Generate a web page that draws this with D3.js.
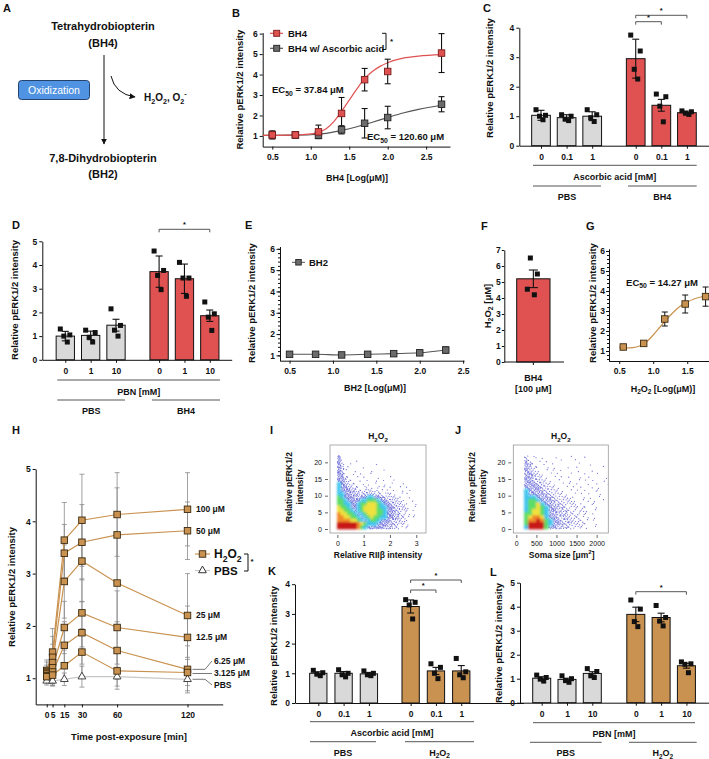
<!DOCTYPE html>
<html>
<head>
<meta charset="utf-8">
<script src="https://cdn.jsdelivr.net/npm/d3@7"></script>
<style>
  body { margin: 0; background: #fff; }
  svg { display: block; }
</style>
</head>
<body>
<script>
// ---- B: BH4 dose response ----
const bX = [0.5, 0.8, 1.1, 1.4, 1.7, 2.0, 2.7];
const bBH4 = [1.05, 1.05, 1.2, 2.1, 3.75, 4.15, 5.05];
const bBH4Err = [0.2, 0.15, 0.33, 0.78, 0.55, 0.6, 0.95];
const bAA = [1.05, 1.05, 1.03, 1.3, 1.62, 1.9, 2.55];
const bAAErr = [0.15, 0.15, 0.15, 0.2, 0.72, 0.55, 0.37];
const bFitX = [0.375, 0.6, 0.8, 1.0, 1.1, 1.2, 1.3, 1.4, 1.5, 1.6, 1.7, 1.8, 1.9, 2.0, 2.2, 2.4, 2.7];
const bFitBH4 = [1.03, 1.03, 1.05, 1.1, 1.18, 1.35, 1.7, 2.2, 2.75, 3.3, 3.8, 4.15, 4.4, 4.58, 4.8, 4.9, 4.97];
const bFitAAX = [0.375, 0.8, 1.0, 1.2, 1.4, 1.6, 1.8, 2.0, 2.2, 2.4, 2.7];
const bFitAA = [1.03, 1.04, 1.06, 1.13, 1.27, 1.45, 1.67, 1.9, 2.12, 2.3, 2.5];

// ---- C: ascorbic acid ----
const cDoses = ['0', '0.1', '1', '0', '0.1', '1'];
const cMeans = [1.03, 0.95, 1.0, 2.95, 1.37, 1.12];
const cErrs = [0.17, 0.1, 0.15, 0.66, 0.2, 0.05];
const cPoints = [[1.22, 1.03, 1.0, 0.88], [1.05, 1.0, 0.9, 0.85], [1.22, 1.05, 0.95, 0.82],
                 [3.75, 3.21, 2.59, 2.26], [1.75, 1.66, 1.34, 0.81], [1.18, 1.15, 1.1, 1.06]];

// ---- D: PBN ----
const dDoses = ['0', '1', '10', '0', '1', '10'];
const dMeans = [1.0, 1.03, 1.46, 3.72, 3.42, 1.86];
const dErrs = [0.2, 0.18, 0.25, 0.66, 0.62, 0.24];
const dPoints = [[1.3, 1.05, 1.0, 0.75], [1.25, 1.15, 0.95, 0.75], [2.15, 1.45, 1.25, 1.0],
                 [4.59, 3.77, 3.56, 2.96], [4.11, 3.45, 3.45, 2.68], [2.44, 1.94, 1.8, 1.24]];

// ---- E: BH2 ----
const eX = [0.5, 0.8, 1.1, 1.4, 1.7, 2.0, 2.3];
const eY = [1.05, 1.05, 1.02, 1.05, 1.08, 1.12, 1.25];
const eErr = [0.1, 0.05, 0.06, 0.05, 0.06, 0.12, 0.15];

// ---- F: H2O2 from BH4 ----
const fMean = 5.2;
const fErr = 0.55;
const fPoints = [6.5, 5.5, 4.55, 4.2];

// ---- G: H2O2 dose response ----
const gX = [0.56, 0.86, 1.17, 1.47, 1.77];
const gY = [1.2, 1.38, 2.6, 3.35, 3.72];
const gErr = [0.06, 0.06, 0.35, 0.45, 0.48];
const gFitX = [0.5, 0.6, 0.7, 0.8, 0.9, 1.0, 1.1, 1.2, 1.3, 1.4, 1.5, 1.6, 1.7, 1.82];
const gFitY = [1.18, 1.15, 1.17, 1.25, 1.45, 1.8, 2.2, 2.6, 2.95, 3.25, 3.45, 3.6, 3.7, 3.78];

// ---- H: time course ----
const hTimes = [0, 5, 15, 30, 60, 120];
const hDoses = ['100 μM', '50 μM', '25 μM', '12.5 μM', '6.25 μM', '3.125 μM'];
const hMeans = [
  [1.15, 1.5, 3.64, 4.02, 4.13, 4.23],
  [1.13, 1.4, 3.39, 3.6, 3.74, 3.82],
  [1.1, 1.3, 2.85, 3.24, 2.82, 2.2],
  [1.08, 1.2, 1.97, 2.25, 1.97, 1.78],
  [1.05, 1.12, 1.63, 1.87, 1.53, 1.17],
  [1.03, 1.06, 1.24, 1.5, 1.14, 1.11]
];
const hErrs = [
  [0.2, 0.45, 0.72, 0.88, 0.8, 0.7],
  [0.18, 0.4, 0.55, 0.72, 0.9, 0.55],
  [0.15, 0.35, 0.7, 0.78, 0.9, 0.8],
  [0.12, 0.3, 0.5, 0.65, 0.7, 0.6],
  [0.12, 0.25, 0.45, 0.6, 0.55, 0.45],
  [0.12, 0.2, 0.3, 0.45, 0.35, 0.25]
];
const hPBS = [0.95, 0.95, 0.98, 1.03, 1.03, 0.98];
const hPBSErr = [0.08, 0.1, 0.12, 0.2, 0.18, 0.22];

// ---- I / J: density scatter, rows from y=21 (top) to y=0; '.', 1-4 = dots, 5-9 = dense colour ----
const iRows = [
  '4',
  '41...1',
  '42..1......1',
  '43.1...1',
  '431..1....1...1',
  '431.1..1..1',
  '4421..1.1...1...1',
  '44321.1..1.1..1..1',
  '543221.1.1.1..1.1...1',
  '5443221.2.1.2.1.1..1.1',
  '54443322222121.1.1.1..1',
  '554433323332221211.1.1',
  '65444334455443322211.1',
  '665444455666544332211.1',
  '6655445667776544332211.1',
  '7665445677776554433221.1',
  '7766545677776654433221.1',
  '8776654567776654433221.1',
  '8877665456766554433221.1',
  '8888776545665444332211',
  '9999998765554443332211',
  '9999998654444433322111'
];
const jRows = [
  '..3.2.1..1...1...1',
  '..32.1.1...1..1',
  '..431.1..1.....1..1',
  '..4321.1.1..1..1.....1',
  '..4321.1.1.1...1..1',
  '..44321.1.1..1...1..1',
  '..443211.1.1.1.1..1...1',
  '..4433211.1..1.1.1.1.1',
  '..44433211.1.1.1.1..1.1',
  '..444433211.1.1.1.1.1',
  '..5444332211.1.1.1.11',
  '..54444332211.1.1.1.1',
  '..5554443322211.1.1.1',
  '..5665444332221.11.1.1',
  '..5667544333222.1.11',
  '..5667654433222121.1',
  '..5677654433322121.1',
  '..6677654433322211.1',
  '..6788754433322211.1',
  '..6889865443332221.1',
  '..6999965443332221.1',
  '..5999964433322211.1'
];

// ---- K: ascorbic acid / H2O2 ----
const kDoses = ['0', '0.1', '1', '0', '0.1', '1'];
const kMeans = [1.0, 1.0, 0.98, 3.25, 1.08, 1.08];
const kErrs = [0.05, 0.06, 0.05, 0.22, 0.12, 0.18];
const kPoints = [[1.1, 1.02, 0.97, 0.92], [1.12, 1.0, 0.95, 0.88], [1.08, 1.0, 0.95, 0.92],
                 [3.48, 3.39, 3.3, 2.83], [1.32, 1.2, 1.0, 0.82], [1.5, 1.05, 0.95, 0.85]];

// ---- L: PBN / H2O2 ----
const lDoses = ['0', '1', '10', '0', '1', '10'];
const lMeans = [1.02, 0.97, 1.22, 3.68, 3.55, 1.54];
const lErrs = [0.06, 0.05, 0.07, 0.3, 0.18, 0.1];
const lPoints = [[1.15, 1.05, 0.98, 0.9], [1.12, 1.0, 0.92, 0.85], [1.42, 1.3, 1.12, 1.05],
                 [4.28, 3.9, 3.38, 3.17], [4.05, 3.55, 3.4, 3.2], [1.7, 1.62, 1.6, 1.25]];

const FONT = '"Liberation Sans", Arial, Helvetica, sans-serif';
const INK = '#111', GRAYBAR = '#d9d9d9', RED = '#e05252', TAN = '#c99250';
const fmtInt = d3.format('d');

const svg = d3.select('body').append('svg')
  .attr('width', 709).attr('height', 759)
  .attr('font-family', FONT);
const defs = svg.append('defs');
defs.append('marker').attr('id', 'arr')
  .attr('viewBox', '0 0 10 10').attr('refX', 9).attr('refY', 5)
  .attr('markerWidth', 6).attr('markerHeight', 6).attr('orient', 'auto')
  .append('path').attr('d', 'M0,0L10,5L0,10z').attr('fill', INK);
defs.append('filter').attr('id', 'blur').attr('x', '-20%').attr('y', '-20%').attr('width', '140%').attr('height', '140%')
  .append('feGaussianBlur').attr('stdDeviation', 1.1);

// text with _{sub} and ^{sup}
function rich(t, s, size) {
  const re = /([_^])\{([^}]*)\}/g;
  let last = 0, cur = 0, m;
  const add = (str, off, fs) => {
    t.append('tspan').attr('dy', off - cur).attr('font-size', fs).text(str);
    cur = off;
  };
  while ((m = re.exec(s)) !== null) {
    if (m.index > last) add(s.slice(last, m.index), 0, size);
    add(m[2], m[1] === '_' ? size * 0.3 : -size * 0.45, size * 0.72);
    last = re.lastIndex;
  }
  if (last < s.length) add(s.slice(last), 0, size);
}

function label(x, y, s, o = {}) {
  const size = o.size || 8;
  const t = svg.append('text').attr('x', x).attr('y', y)
    .attr('text-anchor', o.anchor || 'middle')
    .attr('font-size', size)
    .attr('font-weight', o.weight || 'bold')
    .attr('fill', o.fill || INK);
  if (o.rotate) t.attr('transform', `rotate(-90,${x},${y})`);
  rich(t, s, size);
  return t;
}

function styleAxis(g, size = 8.5, weight = 'bold', color = INK) {
  g.attr('font-family', FONT).attr('font-size', size).attr('font-weight', weight);
  g.selectAll('path.domain').attr('stroke', color);
  g.selectAll('.tick line').attr('stroke', color);
  g.selectAll('.tick text').attr('fill', INK);
}

function errBar(g, x, y1, y2, cap, color, w = 1) {
  g.append('line').attr('x1', x).attr('x2', x).attr('y1', y1).attr('y2', y2)
    .attr('stroke', color).attr('stroke-width', w);
  [y1, y2].forEach(yy => g.append('line')
    .attr('x1', x - cap / 2).attr('x2', x + cap / 2).attr('y1', yy).attr('y2', yy)
    .attr('stroke', color).attr('stroke-width', w));
}

function square(g, x, y, s, fill, stroke) {
  g.append('rect').attr('x', x - s / 2).attr('y', y - s / 2).attr('width', s).attr('height', s)
    .attr('fill', fill).attr('stroke', stroke).attr('stroke-width', 0.9);
}

// ================= A =================
label(3, 12, 'A', { size: 11, anchor: 'start' });
label(103, 29.5, 'Tetrahydrobiopterin', { size: 11 });
label(103, 46.5, '(BH4)', { size: 11 });
svg.append('line').attr('x1', 104).attr('x2', 104).attr('y1', 55).attr('y2', 144)
  .attr('stroke', INK).attr('stroke-width', 1).attr('marker-end', 'url(#arr)');
svg.append('rect').attr('x', 18.5).attr('y', 80.5).attr('width', 71).attr('height', 19).attr('rx', 3)
  .attr('fill', '#4f93e2').attr('stroke', '#24446e').attr('stroke-width', 1);
label(54, 94.3, 'Oxidization', { size: 10.5, weight: 'normal', fill: '#fff' });
svg.append('path').attr('d', 'M111,76 Q115,94 135,97').attr('fill', 'none')
  .attr('stroke', INK).attr('marker-end', 'url(#arr)');
label(144, 100.5, 'H_{2}O_{2}, O_{2}^{-}', { size: 10, anchor: 'start' });
label(103, 161.5, '7,8-Dihydrobiopterin', { size: 11 });
label(103, 178, '(BH2)', { size: 11 });

// ================= B =================
label(232, 17, 'B', { size: 11, anchor: 'start' });
{
  const x = d3.scaleLinear().domain([0.375, 2.81]).range([262.7, 450]);
  const y = d3.scaleLinear().domain([0.48, 6.05]).range([146.6, 32.6]);
  const g = svg.append('g');
  styleAxis(g.append('g').attr('transform', `translate(0,${y.range()[0]})`)
    .call(d3.axisBottom(x).tickValues([0.5, 1, 1.5, 2, 2.5]).tickFormat(d3.format('.1f')).tickSize(3).tickSizeOuter(0).tickPadding(4)));
  styleAxis(g.append('g').attr('transform', `translate(${x.range()[0]},0)`)
    .call(d3.axisLeft(y).tickValues([1, 2, 3, 4, 5, 6]).tickFormat(fmtInt).tickSize(3).tickSizeOuter(0).tickPadding(2)));
  const line = d3.line().curve(d3.curveMonotoneX);
  g.append('path').attr('d', line(bFitAAX.map((v, i) => [x(v), y(bFitAA[i])])))
    .attr('fill', 'none').attr('stroke', '#555').attr('stroke-width', 1.2);
  g.append('path').attr('d', line(bFitX.map((v, i) => [x(v), y(bFitBH4[i])])))
    .attr('fill', 'none').attr('stroke', RED).attr('stroke-width', 1.2);
  bX.forEach((v, i) => {
    errBar(g, x(v), y(bAA[i] + bAAErr[i]), y(bAA[i] - bAAErr[i]), 6, INK, 1.1);
    errBar(g, x(v), y(bBH4[i] + bBH4Err[i]), y(bBH4[i] - bBH4Err[i]), 6, INK, 1.1);
  });
  bX.forEach((v, i) => square(g, x(v), y(bAA[i]), 6.5, '#6b6b6b', '#222'));
  bX.forEach((v, i) => square(g, x(v), y(bBH4[i]), 6.5, RED, '#7a1c1c'));
  // legend
  [[33.3, RED, '#7a1c1c', RED, 'BH4'], [48.3, '#555', '#222', '#6b6b6b', 'BH4 w/ Ascorbic acid']].forEach(([ly, lc, sc, fc, name]) => {
    g.append('line').attr('x1', 270).attr('x2', 283).attr('y1', ly).attr('y2', ly).attr('stroke', lc).attr('stroke-width', 1.2);
    square(g, 276.7, ly, 6, fc, sc);
    label(288, ly + 3.4, name, { size: 9.5, anchor: 'start' });
  });
  g.append('path').attr('d', 'M382,33.3 H386 V49.5 H382').attr('fill', 'none').attr('stroke', INK);
  label(391.5, 44, '*', { size: 8 });
  label(272, 93, 'EC_{50} = 37.84 μM', { size: 9.5, anchor: 'start' });
  label(367, 140, 'EC_{50} = 120.60 μM', { size: 9.5, anchor: 'start' });
  label(243, 89.6, 'Relative pERK1/2 intensity', { size: 9.5, rotate: true });
  label(357, 180.5, 'BH4 [Log(μM)]', { size: 9 });
}

// ================= bar panels (C, D, K, L) =================
function barPanel(p) {
  const g = svg.append('g');
  const y = d3.scaleLinear().domain([0, p.max]).range([p.y0, p.y0 - p.max * p.unit]);
  const slot = i => i + (i >= 3 ? p.gap : 0);
  const x = d3.scaleLinear().domain([0, 1]).range([p.c0, p.c0 + p.step]);
  const xa = d3.scaleLinear().domain([x.invert(p.ax), x.invert(p.axEnd)]).range([p.ax, p.axEnd]);
  const idx = p.means.map((d, i) => i);

  g.selectAll('rect.bar').data(p.means).join('rect').attr('class', 'bar')
    .attr('x', (d, i) => x(slot(i)) - p.bw / 2).attr('width', p.bw)
    .attr('y', d => y(d)).attr('height', d => y(0) - y(d))
    .attr('fill', (d, i) => i < 3 ? GRAYBAR : p.color)
    .attr('stroke', INK).attr('stroke-width', 1);
  idx.forEach(i => errBar(g, x(slot(i)), y(p.means[i] + p.errs[i]), y(p.means[i] - p.errs[i]), 7, INK, 1.1));
  const offs = [-5, 4.5, -1.5, 2];
  p.points.forEach((pts, i) => pts.forEach((v, k) =>
    g.append('rect').attr('x', x(slot(i)) + offs[k] - 2.5).attr('y', y(v) - 2.5)
      .attr('width', 5).attr('height', 5).attr('fill', INK)));

  styleAxis(g.append('g').attr('transform', `translate(${p.ax},0)`)
    .call(d3.axisLeft(y).ticks(p.max).tickFormat(fmtInt).tickSize(3).tickSizeOuter(0).tickPadding(2)));
  styleAxis(g.append('g').attr('transform', `translate(0,${p.y0})`)
    .call(d3.axisBottom(xa).tickValues(idx.map(slot)).tickFormat((d, i) => p.doses[i])
      .tickSize(3).tickSizeOuter(0).tickPadding(5)));

  // group lines and labels
  g.append('line').attr('x1', p.line1[0]).attr('x2', p.line1[1]).attr('y1', p.ly1).attr('y2', p.ly1).attr('stroke', '#555');
  label((p.line1[0] + p.line1[1]) / 2, p.ly1 + 14.5, p.title, { size: 9 });
  p.groups.forEach(([a, b, name]) => {
    g.append('line').attr('x1', a).attr('x2', b).attr('y1', p.ly2).attr('y2', p.ly2).attr('stroke', '#555');
    label((a + b) / 2, p.ly2 + 14, name, { size: 9 });
  });
  // significance brackets
  p.brackets.forEach(([i0, i1, by]) => {
    const xa0 = x(slot(i0)), xa1 = x(slot(i1));
    g.append('path').attr('d', `M${xa0},${by + 3}V${by}H${xa1}V${by + 3}`).attr('fill', 'none').attr('stroke', '#444').attr('stroke-width', 0.9);
    label((xa0 + xa1) / 2, by - 2, '*', { size: 7.5 });
  });
  label(p.ylx, p.yly, 'Relative pERK1/2 intensity', { size: 9.5, rotate: true });
}

label(483, 12, 'C', { size: 11, anchor: 'start' });
barPanel({
  means: cMeans, errs: cErrs, points: cPoints, doses: cDoses, color: RED,
  max: 4, y0: 145.7, unit: 29.5, c0: 541, step: 25.6, gap: 0.7, bw: 18.7, ax: 519.3, axEnd: 709,
  line1: [533, 696.7], ly1: 165.3, title: 'Ascorbic acid [mM]', ly2: 186,
  groups: [[533, 601, 'PBS'], [628, 696.7, 'BH4']],
  brackets: [[3, 4, 21.7], [3, 5, 15.3]], ylx: 493, yly: 78
});

label(12, 229, 'D', { size: 11, anchor: 'start' });
barPanel({
  means: dMeans, errs: dErrs, points: dPoints, doses: dDoses, color: RED,
  max: 5, y0: 359.8, unit: 23.7, c0: 65.3, step: 25.35, gap: 0.7, bw: 18.3, ax: 42.3, axEnd: 231.7,
  line1: [57.3, 220], ly1: 380, title: 'PBN [mM]', ly2: 400,
  groups: [[57.3, 125, 'PBS'], [152, 220, 'BH4']],
  brackets: [[3, 5, 229.3]], ylx: 18, yly: 300
});

label(268, 575, 'K', { size: 11, anchor: 'start' });
barPanel({
  means: kMeans, errs: kErrs, points: kPoints, doses: kDoses, color: TAN,
  max: 4, y0: 703, unit: 29.7, c0: 318.3, step: 25.3, gap: 0.65, bw: 17.3, ax: 295, axEnd: 523.3,
  line1: [310, 474], ly1: 721.7, title: 'Ascorbic acid [mM]', ly2: 741.7,
  groups: [[310, 376, 'PBS'], [405, 474, 'H_{2}O_{2}']],
  brackets: [[3, 4, 590], [3, 5, 580]], ylx: 276.7, yly: 646
});

label(490, 576, 'L', { size: 11, anchor: 'start' });
barPanel({
  means: lMeans, errs: lErrs, points: lPoints, doses: lDoses, color: TAN,
  max: 5, y0: 702.7, unit: 24, c0: 541.7, step: 25.3, gap: 0.72, bw: 18, ax: 520, axEnd: 709,
  line1: [533, 695], ly1: 722.7, title: 'PBN [mM]', ly2: 742.3,
  groups: [[530, 601.7, 'PBS'], [629, 696.7, 'H_{2}O_{2}']],
  brackets: [[3, 5, 591.7]], ylx: 501.7, yly: 643
});

// ================= E =================
label(245, 229, 'E', { size: 11, anchor: 'start' });
{
  const x = d3.scaleLinear().domain([0.39, 2.51]).range([280, 464]);
  const y = d3.scaleLinear().domain([0.75, 6.1]).range([360.7, 246.7]);
  const g = svg.append('g');
  styleAxis(g.append('g').attr('transform', `translate(0,${y.range()[0]})`)
    .call(d3.axisBottom(x).tickValues([0.5, 1, 1.5, 2, 2.5]).tickFormat(d3.format('.1f')).tickSize(3).tickSizeOuter(0).tickPadding(4)));
  styleAxis(g.append('g').attr('transform', `translate(${x.range()[0]},0)`)
    .call(d3.axisLeft(y).tickValues(d3.range(10, 61, 2).map(v => v / 10)).tickFormat('').tickSize(2).tickSizeOuter(0)));
  styleAxis(g.append('g').attr('transform', `translate(${x.range()[0]},0)`)
    .call(d3.axisLeft(y).tickValues([1, 2, 3, 4, 5, 6]).tickFormat(fmtInt).tickSize(3.5).tickSizeOuter(0).tickPadding(1.5)));
  g.append('path').attr('d', d3.line().curve(d3.curveMonotoneX)(eX.map((v, i) => [x(v), y(eY[i])])))
    .attr('fill', 'none').attr('stroke', '#555').attr('stroke-width', 1.1);
  eX.forEach((v, i) => errBar(g, x(v), y(eY[i] + eErr[i]), y(eY[i] - eErr[i]), 6, '#333'));
  eX.forEach((v, i) => square(g, x(v), y(eY[i]), 6.5, '#6b6b6b', '#222'));
  g.append('line').attr('x1', 292).attr('x2', 305).attr('y1', 262.3).attr('y2', 262.3).attr('stroke', '#555');
  square(g, 298.5, 262.3, 5.5, '#6b6b6b', '#222');
  label(309, 265.5, 'BH2', { size: 9.5, anchor: 'start' });
  label(255, 303, 'Relative pERK1/2 intensity', { size: 9.5, rotate: true });
  label(375, 391, 'BH2 [Log(μM)]', { size: 9 });
}

// ================= F =================
label(481, 230, 'F', { size: 11, anchor: 'start' });
{
  const y = d3.scaleLinear().domain([0, 7]).range([362, 250]);
  const x = d3.scaleBand().domain(['BH4']).range([516.7, 550]);
  const g = svg.append('g');
  g.append('rect').attr('x', x('BH4')).attr('width', x.bandwidth())
    .attr('y', y(fMean)).attr('height', y(0) - y(fMean)).attr('fill', RED).attr('stroke', INK);
  const cx = x('BH4') + x.bandwidth() / 2;
  errBar(g, cx, y(fMean + fErr), y(fMean - fErr), 9, INK, 1.1);
  [-3, 4, -6, 1].forEach((o, k) => g.append('rect').attr('x', cx + o - 2.5).attr('y', y(fPoints[k]) - 2.5)
    .attr('width', 5).attr('height', 5).attr('fill', INK));
  styleAxis(g.append('g').attr('transform', 'translate(504.3,0)')
    .call(d3.axisLeft(y).ticks(7).tickFormat(fmtInt).tickSize(2.5).tickSizeOuter(0).tickPadding(1)));
  g.append('line').attr('x1', 504.3).attr('x2', 564).attr('y1', 362).attr('y2', 362).attr('stroke', INK);
  g.append('line').attr('x1', cx).attr('x2', cx).attr('y1', 362).attr('y2', 365).attr('stroke', INK);
  label(cx, 380.5, 'BH4', { size: 9 });
  label(cx, 392, '[100 μM]', { size: 9 });
  label(490.5, 306, 'H_{2}O_{2} [μM]', { size: 9.5, rotate: true });
}

// ================= G =================
label(586, 230, 'G', { size: 11, anchor: 'start' });
{
  const x = d3.scaleLinear().domain([0.35, 1.82]).range([609, 709]);
  const y = d3.scaleLinear().domain([0.5, 6.1]).range([361, 249]);
  const g = svg.append('g');
  styleAxis(g.append('g').attr('transform', `translate(0,${y.range()[0]})`)
    .call(d3.axisBottom(x).tickValues([0.5, 1, 1.5]).tickFormat(d3.format('.1f')).tickSize(3).tickSizeOuter(0).tickPadding(4)));
  styleAxis(g.append('g').attr('transform', `translate(${x.range()[0]},0)`)
    .call(d3.axisLeft(y).tickValues(d3.range(6, 61, 2).map(v => v / 10)).tickFormat('').tickSize(2).tickSizeOuter(0)));
  styleAxis(g.append('g').attr('transform', `translate(${x.range()[0]},0)`)
    .call(d3.axisLeft(y).tickValues([1, 2, 3, 4, 5, 6]).tickFormat(fmtInt).tickSize(3).tickSizeOuter(0).tickPadding(1)));
  g.append('path').attr('d', d3.line().curve(d3.curveMonotoneX)(gFitX.map((v, i) => [x(v), y(gFitY[i])])))
    .attr('fill', 'none').attr('stroke', TAN).attr('stroke-width', 1.2);
  gX.forEach((v, i) => errBar(g, x(v), y(gY[i] + gErr[i]), y(gY[i] - gErr[i]), 6, INK));
  gX.forEach((v, i) => square(g, x(v), y(gY[i]), 6.5, TAN, '#3a2a10'));
  label(662, 285.5, 'EC_{50} = 14.27 μM', { size: 9.5 });
  label(595.5, 303, 'Relative pERK1/2 intensity', { size: 9.5, rotate: true });
  label(663, 391.5, 'H_{2}O_{2} [Log(μM)]', { size: 9 });
}

// ================= H =================
label(12, 434, 'H', { size: 11, anchor: 'start' });
{
  const x = d3.scaleLinear().domain([-9.4, 150]).range([35.7, 222.7]);
  const y = d3.scaleLinear().domain([0.5, 5]).range([704.4, 469]);
  const g = svg.append('g');
  styleAxis(g.append('g').attr('transform', `translate(0,${y.range()[0]})`)
    .call(d3.axisBottom(x).tickValues(hTimes).tickFormat(fmtInt).tickSize(3).tickSizeOuter(0).tickPadding(5)));
  styleAxis(g.append('g').attr('transform', `translate(${x.range()[0]},0)`)
    .call(d3.axisLeft(y).tickValues([1, 2, 3, 4, 5]).tickFormat(fmtInt).tickSize(3).tickSizeOuter(0).tickPadding(2)));
  hTimes.forEach((t, i) => {
    errBar(g, x(t), y(hPBS[i] + hPBSErr[i]), y(hPBS[i] - hPBSErr[i]), 5, '#8a8a8a', 0.8);
    hMeans.forEach((s, k) => errBar(g, x(t), y(s[i] + hErrs[k][i]), y(s[i] - hErrs[k][i]), 5, '#8a8a8a', 0.8));
  });
  const line = d3.line().x((d, i) => x(hTimes[i])).y(d => y(d));
  g.append('path').attr('d', line(hPBS)).attr('fill', 'none').attr('stroke', '#c8c8c8').attr('stroke-width', 1.2);
  const tri = d3.symbol(d3.symbolTriangle, 26);
  hPBS.forEach((v, i) => g.append('path').attr('d', tri())
    .attr('transform', `translate(${x(hTimes[i])},${y(v)})`).attr('fill', '#fff').attr('stroke', '#333').attr('stroke-width', 0.9));
  hMeans.forEach(s => g.append('path').attr('d', line(s)).attr('fill', 'none').attr('stroke', TAN).attr('stroke-width', 1.2));
  hMeans.forEach(s => s.forEach((v, i) => square(g, x(hTimes[i]), y(v), 6.5, TAN, '#3a2a10')));
  // end labels
  hMeans.slice(0, 4).forEach((s, k) => label(196, y(s[5]) + 3, hDoses[k], { size: 8.5, anchor: 'start' }));
  const lx = x(120) + 5;
  g.append('path').attr('d', `M${lx},${y(hMeans[4][5])}H205L212,661`).attr('fill', 'none').attr('stroke', '#555').attr('stroke-width', 0.8);
  g.append('path').attr('d', `M${lx},${y(hMeans[5][5]) + 1}H212`).attr('fill', 'none').attr('stroke', '#555').attr('stroke-width', 0.8);
  g.append('path').attr('d', `M${lx},${y(hPBS[5])}H205L212,685`).attr('fill', 'none').attr('stroke', '#555').attr('stroke-width', 0.8);
  label(214, 664, hDoses[4], { size: 8.5, anchor: 'start' });
  label(214, 675.5, hDoses[5], { size: 8.5, anchor: 'start' });
  label(214, 688, 'PBS', { size: 8.5, anchor: 'start' });
  // legend
  g.append('line').attr('x1', 195).attr('x2', 210).attr('y1', 554).attr('y2', 554).attr('stroke', TAN).attr('stroke-width', 1.2);
  square(g, 202.5, 554, 6.5, TAN, '#3a2a10');
  g.append('line').attr('x1', 195).attr('x2', 210).attr('y1', 570.5).attr('y2', 570.5).attr('stroke', '#c8c8c8').attr('stroke-width', 1.2);
  g.append('path').attr('d', tri()).attr('transform', 'translate(202.5,570.5)').attr('fill', '#fff').attr('stroke', '#333');
  label(214, 558, 'H_{2}O_{2}', { size: 12, anchor: 'start' });
  label(214, 574.5, 'PBS', { size: 11.5, anchor: 'start' });
  g.append('path').attr('d', 'M244,554H248V571H244').attr('fill', 'none').attr('stroke', INK);
  label(252, 564, '*', { size: 8 });
  label(15, 587, 'Relative pERK1/2 intensity', { size: 9.5, rotate: true });
  label(129, 740, 'Time post-exposure [min]', { size: 9.5 });
}

// ================= I / J =================
const DENSE = { 5: '#42c4ee', 6: '#5cdc68', 7: '#efe23c', 8: '#f0882a', 9: '#c81414' };
// fixed dot layouts inside one cell (fractions of the cell), several variants to avoid a visible grid
const DOTSETS = [
  [[0.2, 0.3], [0.75, 0.75], [0.6, 0.15], [0.15, 0.85], [0.45, 0.55], [0.9, 0.4], [0.35, 0.05]],
  [[0.7, 0.2], [0.3, 0.7], [0.9, 0.9], [0.1, 0.1], [0.55, 0.45], [0.25, 0.35], [0.8, 0.6]],
  [[0.45, 0.8], [0.85, 0.3], [0.15, 0.5], [0.6, 0.6], [0.35, 0.15], [0.95, 0.85], [0.05, 0.95]],
  [[0.9, 0.65], [0.4, 0.25], [0.1, 0.7], [0.65, 0.9], [0.8, 0.05], [0.25, 0.95], [0.5, 0.4]],
  [[0.05, 0.45], [0.55, 0.95], [0.35, 0.6], [0.85, 0.1], [0.7, 0.5], [0.2, 0.2], [0.95, 0.75]]
];
function density(p) {
  const x = d3.scaleLinear().domain(p.xd).range(p.xr);
  const y = d3.scaleLinear().domain([-1.2, 25.2]).range([533, 445]);
  const g = svg.append('g');
  const cid = 'clip' + p.id;
  defs.append('clipPath').attr('id', cid).append('rect')
    .attr('x', p.xr[0]).attr('y', 445).attr('width', p.xr[1] - p.xr[0]).attr('height', 88);
  const sparse = g.append('g').attr('clip-path', `url(#${cid})`);
  const dense = g.append('g').attr('clip-path', `url(#${cid})`).append('g').attr('filter', 'url(#blur)');
  p.rows.forEach((row, r) => {
    const yv = p.rows.length - 1 - r;
    row.split('').forEach((ch, c) => {
      const lv = +ch;
      if (!lv) return;
      const x0 = x(c * p.bin), x1 = x((c + 1) * p.bin), y0 = y(yv + 1), y1 = y(yv);
      if (lv >= 5) {
        dense.append('rect').attr('x', x0 - 0.3).attr('y', y0 - 0.3)
          .attr('width', x1 - x0 + 0.6).attr('height', y1 - y0 + 0.6).attr('fill', DENSE[lv]);
      } else {
        const n = [0, 1, 2, 4, 7][lv];
        const set = DOTSETS[(r * 3 + c * 2) % DOTSETS.length];
        for (let k = 0; k < n; k++) {
          sparse.append('circle').attr('cx', x0 + (x1 - x0) * set[k][0]).attr('cy', y0 + (y1 - y0) * set[k][1])
            .attr('r', 0.6).attr('fill', lv === 4 ? '#5050d4' : '#4a4acc').attr('opacity', 0.85);
        }
      }
    });
  });
  g.append('rect').attr('x', p.xr[0]).attr('y', 445).attr('width', p.xr[1] - p.xr[0]).attr('height', 88)
    .attr('fill', 'none').attr('stroke', '#999').attr('stroke-width', 0.8);
  styleAxis(g.append('g').attr('transform', `translate(0,${533 + 2})`)
    .call(d3.axisBottom(x).tickValues(p.xticks).tickFormat(fmtInt).tickSize(3).tickSizeOuter(0)), 7, 'normal', '#666');
  g.selectAll('path.domain').remove();
  styleAxis(g.append('g').attr('transform', `translate(${p.xr[0] - 2},0)`)
    .call(d3.axisLeft(y).tickValues([0, 5, 10, 15, 20]).tickFormat(fmtInt).tickSize(3).tickSizeOuter(0)), 7, 'normal', '#666');
  g.selectAll('path.domain').remove();
  label((p.xr[0] + p.xr[1]) / 2, 439, 'H_{2}O_{2}', { size: 8.5 });
  label(p.xr[0] - 38.5, 487, 'Relative pERK1/2', { size: 8.5, rotate: true });
  label(p.xr[0] - 27.5, 487, 'intensity', { size: 8.5, rotate: true });
}
label(270, 434, 'I', { size: 11, anchor: 'start' });
density({ id: 'i', rows: iRows, bin: 0.125, xd: [-0.28, 3.37], xr: [330, 426], xticks: [0, 1, 2, 3] });
label(378, 558, 'Relative RIIβ intensity', { size: 8.5 });
label(455, 434, 'J', { size: 11, anchor: 'start' });
density({ id: 'j', rows: jRows, bin: 100, xd: [-75, 2290], xr: [513.3, 608.3], xticks: [0, 500, 1000, 1500, 2000] });
label(561.7, 558, 'Soma size [μm^{2}]', { size: 8.5 });
</script>
</body>
</html>
